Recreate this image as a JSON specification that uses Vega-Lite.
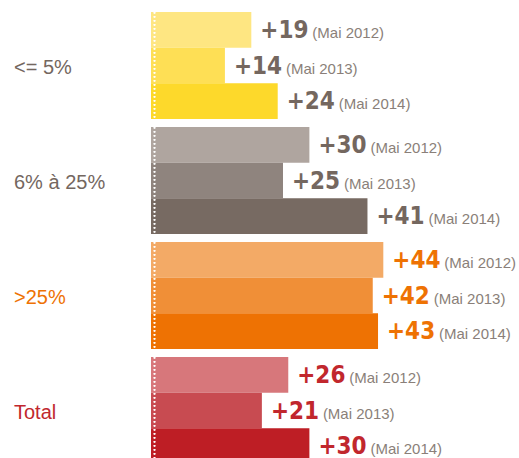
{
  "$schema": "https://vega.github.io/schema/vega-lite/v6.json",
  "padding": {"left": 14, "top": 11, "right": 0, "bottom": 0},
  "bounds": "flush",
  "config": {"view": {"stroke": null}},
  "data": {"values": [
    {"group": "<= 5%", "period": "(Mai 2012)", "cell": "A2012", "value": 19},
    {"group": "<= 5%", "period": "(Mai 2013)", "cell": "A2013", "value": 14},
    {"group": "<= 5%", "period": "(Mai 2014)", "cell": "A2014", "value": 24},
    {"group": "6% à 25%", "period": "(Mai 2012)", "cell": "B2012", "value": 30},
    {"group": "6% à 25%", "period": "(Mai 2013)", "cell": "B2013", "value": 25},
    {"group": "6% à 25%", "period": "(Mai 2014)", "cell": "B2014", "value": 41},
    {"group": ">25%", "period": "(Mai 2012)", "cell": "C2012", "value": 44},
    {"group": ">25%", "period": "(Mai 2013)", "cell": "C2013", "value": 42},
    {"group": ">25%", "period": "(Mai 2014)", "cell": "C2014", "value": 43},
    {"group": "Total", "period": "(Mai 2012)", "cell": "D2012", "value": 26},
    {"group": "Total", "period": "(Mai 2013)", "cell": "D2013", "value": 21},
    {"group": "Total", "period": "(Mai 2014)", "cell": "D2014", "value": 30}
  ]},
  "facet": {"row": {"field": "group", "type": "nominal", "sort": ["<= 5%", "6% à 25%", ">25%", "Total"], "header": {"labels": false, "title": null}}},
  "spacing": 8,
  "spec": {
    "width": 368,
    "height": 107,
    "layer": [
      {
        "mark": {"type": "bar"},
        "encoding": {
          "y": {"field": "period", "type": "ordinal", "axis": null, "scale": {"paddingInner": 0, "paddingOuter": 0}},
          "x": {"field": "value", "type": "quantitative", "axis": null, "scale": {"domain": [0, 69.7], "nice": false}},
          "color": {"field": "cell", "type": "nominal", "legend": null, "scale": {
            "domain": ["A2012", "A2013", "A2014", "B2012", "B2013", "B2014", "C2012", "C2013", "C2014", "D2012", "D2013", "D2014"],
            "range": ["#FEE682", "#FEDF55", "#FDD92B", "#AFA59F", "#8F847E", "#776A62", "#F3AA66", "#F08F37", "#EE7203", "#D7777B", "#C84B51", "#BE1E25"]}}
        }
      },
      {
        "mark": {"type": "rule", "color": "white", "strokeWidth": 1.5, "strokeDash": [1.5, 2.5], "xOffset": 3.5},
        "encoding": {"x": {"value": 0}}
      },
      {
        "mark": {"type": "text", "align": "left", "baseline": "alphabetic", "dx": 9, "dy": 8, "font": "DejaVu Sans Condensed", "fontWeight": "bold", "fontSize": 24},
        "encoding": {
          "y": {"field": "period", "type": "ordinal", "axis": null},
          "x": {"field": "value", "type": "quantitative", "axis": null},
          "text": {"field": "value", "type": "quantitative", "format": "+d"},
          "fill": {"field": "group", "type": "nominal", "legend": null, "scale": {"domain": ["<= 5%", "6% à 25%", ">25%", "Total"], "range": ["#74675F", "#74675F", "#EE7203", "#C1272D"]}}
        }
      },
      {
        "mark": {"type": "text", "align": "left", "baseline": "alphabetic", "dx": 61, "dy": 8, "font": "Liberation Sans", "fontSize": 15, "color": "#8A7F79"},
        "encoding": {
          "y": {"field": "period", "type": "ordinal", "axis": null},
          "x": {"field": "value", "type": "quantitative", "axis": null},
          "text": {"field": "period", "type": "nominal"}
        }
      },
      {
        "mark": {"type": "text", "align": "left", "baseline": "middle", "dx": -137, "dy": 2, "font": "Liberation Sans", "fontSize": 20},
        "encoding": {
          "y": {"value": 53.5},
          "x": {"value": 0},
          "text": {"field": "group", "type": "nominal"},
          "fill": {"field": "group", "type": "nominal", "legend": null},
          "fillOpacity": {"condition": {"test": "datum.period == '(Mai 2013)'", "value": 1}, "value": 0}
        }
      }
    ]
  }
}
